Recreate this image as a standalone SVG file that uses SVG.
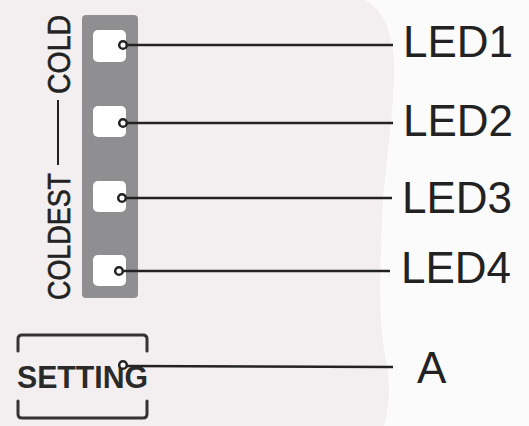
<svg xmlns="http://www.w3.org/2000/svg" width="529" height="426" viewBox="0 0 529 426">
<style>
.lbl{font-family:"Liberation Sans",Arial,sans-serif;font-size:44px;fill:#222}
.side{font-family:"Liberation Sans",Arial,sans-serif;font-size:31px;fill:#222;stroke:#222;stroke-width:0.6}
.set{font-family:"Liberation Sans",Arial,sans-serif;font-size:31px;font-weight:bold;fill:#2a2a2a}
.led{fill:#ffffff}
.dot{fill:#ffffff;stroke:#222;stroke-width:2.5}
.wire{stroke:#222;stroke-width:2.5;fill:none}
.br{stroke:#333;stroke-width:3;fill:none;stroke-linecap:round;stroke-linejoin:round}
</style>
<rect width="529" height="426" fill="#fcfbfb"/>
<path d="M0 0 H365 C385 10 396 40 394 80 C392 130 384 170 382 220 C380 280 378 320 386 360 C392 390 388 410 384 426 H0 Z" fill="#f3eff1"/>
<g id="panel">
<rect x="82" y="15" width="56" height="283" rx="4" fill="#8f8f91"/>
</g>
<g id="side-label">
<text class="side" transform="translate(70,300) rotate(-90)" textLength="127" lengthAdjust="spacingAndGlyphs">COLDEST</text>
<line x1="58" y1="100" x2="58" y2="165" stroke="#222" stroke-width="2"/>
<text class="side" transform="translate(70,94) rotate(-90)" textLength="79" lengthAdjust="spacingAndGlyphs">COLD</text>
</g>
<g id="led1"><rect class="led" x="93" y="30" width="33" height="32" rx="5"/><text class="lbl" x="403" y="57">LED1</text></g>
<g id="led2"><rect class="led" x="93" y="106" width="33" height="31" rx="5"/><text class="lbl" x="403" y="136">LED2</text></g>
<g id="led3"><rect class="led" x="93" y="181" width="33" height="31" rx="5"/><text class="lbl" x="402" y="213">LED3</text></g>
<g id="led4"><rect class="led" x="93" y="255" width="33" height="31" rx="5"/><text class="lbl" x="401" y="283">LED4</text></g>
<g id="setting">
<path class="br" d="M18 351 V339 Q18 335 22 335 H143 Q147 335 147 339 V351"/>
<path class="br" d="M18 401 V414 Q18 418 22 418 H143 Q147 418 147 414 V401"/>
<text class="set" x="17" y="388" textLength="131" lengthAdjust="spacingAndGlyphs">SETTING</text>
</g>
<g id="a"><text class="lbl" x="417" y="383">A</text></g>
<g id="connectors">
<line class="wire" x1="127" y1="45" x2="393" y2="45"/>
<line class="wire" x1="127" y1="123" x2="393" y2="123"/>
<line class="wire" x1="126" y1="198" x2="392" y2="198"/>
<line class="wire" x1="123" y1="271" x2="390" y2="271"/>
<line class="wire" x1="126" y1="366" x2="393" y2="367"/>
<circle class="dot" cx="123" cy="45" r="3.8"/>
<circle class="dot" cx="123" cy="123" r="3.8"/>
<circle class="dot" cx="122" cy="198" r="3.8"/>
<circle class="dot" cx="119" cy="271" r="3.8"/>
<circle class="dot" cx="123" cy="365" r="3.8"/>
</g>
</svg>
